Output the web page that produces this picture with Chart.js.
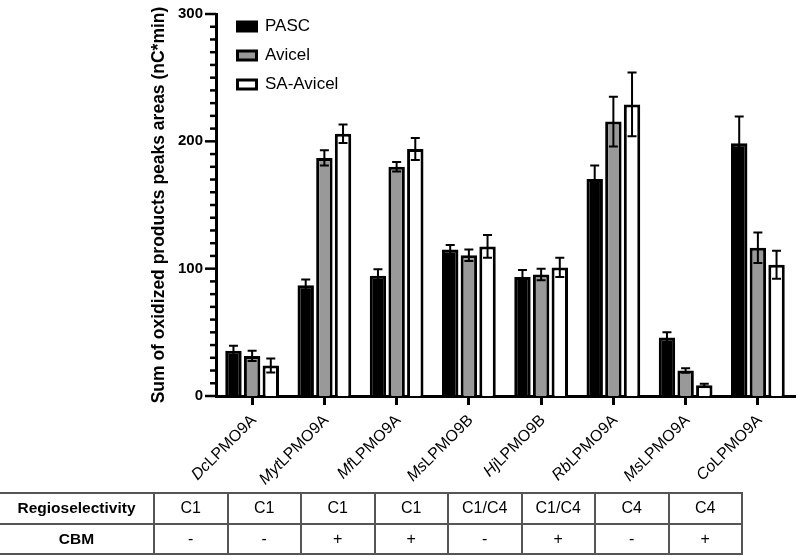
<!DOCTYPE html>
<html>
<head>
<meta charset="utf-8">
<script src="https://cdn.jsdelivr.net/npm/chart.js@4.4.1/dist/chart.umd.min.js"></script>
<style>
  html, body { margin: 0; padding: 0; background: #fff; }
  #wrap { position: relative; width: 797px; height: 556px; overflow: hidden; }
  #chart { position: absolute; left: 0; top: 0; }
  #tbl { position: absolute; left: 0; top: 492px; width: 742px; table-layout: fixed;
         border-collapse: collapse; font-family: "Liberation Sans", Arial, sans-serif; }
  #tbl td { border: 2px solid #555; padding: 0; height: 28.5px; text-align: center;
            font-size: 16px; color: #000; }
  #tbl td.h { font-weight: bold; font-size: 15.5px; border-left: none; }
</style>
</head>
<body>
<div id="wrap">
  <canvas id="chart" width="797" height="556"></canvas>
  <table id="tbl">
    <colgroup><col style="width:154px"><col span="8" style="width:73.5px"></colgroup>
    <tr id="rowRegio"><td class="h">Regioselectivity</td></tr>
    <tr id="rowCbm"><td class="h">CBM</td></tr>
  </table>
</div>
<script>
// Data
const categories = ['DcLPMO9A', 'MytLPMO9A', 'MfLPMO9A', 'MsLPMO9B', 'HjLPMO9B', 'RbLPMO9A', 'MsLPMO9A', 'CoLPMO9A'];
const italicPart = ['Dc', 'Myt', 'Mf', 'Ms', 'Hj', 'Rb', 'Ms', 'Co'];
const pasc = [35.5, 87, 94.5, 115, 93.5, 170.5, 46, 198.5];
const pascErr = [4, 4.5, 5, 3.5, 5.5, 10.5, 4, 21];
const avicel = [31.5, 187, 180, 110.5, 95.5, 215.5, 20, 116.5];
const avicelErr = [4, 6, 3.7, 4.5, 4.5, 19.5, 1.8, 12];
const saAvicel = [24, 206, 194, 117.5, 101, 229, 8.5, 103];
const saAvicelErr = [5.5, 7.3, 8.6, 9, 7.5, 25, 1.2, 11];
const yMax = 300;
const yMajorStep = 100;
const yMinorStep = 10;
const regioselectivity = ['C1', 'C1', 'C1', 'C1', 'C1/C4', 'C1/C4', 'C4', 'C4'];
const cbm = ['-', '-', '+', '+', '-', '+', '-', '+'];

const FONT = '"Liberation Sans", Arial, sans-serif';

// table under the chart
regioselectivity.forEach(t => {
    const td = document.createElement('td');
    td.textContent = t;
    document.getElementById('rowRegio').appendChild(td);
});
cbm.forEach(t => {
    const td = document.createElement('td');
    td.textContent = t;
    document.getElementById('rowCbm').appendChild(td);
});

// minor/major ticks on the y axis (GraphPad style)
const yAxisTicks = {
    id: 'yAxisTicks',
    afterDraw(chart) {
        const y = chart.scales.y;
        const ctx = chart.ctx;
        const x0 = chart.chartArea.left;
        ctx.save();
        ctx.strokeStyle = '#000';
        ctx.lineWidth = 2.5;
        for (let v = 0; v <= yMax; v += yMinorStep) {
            const py = y.getPixelForValue(v);
            const len = v % yMajorStep === 0 ? 11 : 6;
            ctx.beginPath();
            ctx.moveTo(x0 - len, py);
            ctx.lineTo(x0, py);
            ctx.stroke();
        }
        ctx.restore();
    }
};

// SD error bars
const errorBars = {
    id: 'errorBars',
    afterDatasetsDraw(chart) {
        const ctx = chart.ctx;
        const y = chart.scales.y;
        ctx.save();
        ctx.strokeStyle = '#000';
        ctx.lineWidth = 2;
        chart.data.datasets.forEach((ds, i) => {
            chart.getDatasetMeta(i).data.forEach((bar, j) => {
                const v = ds.data[j], e = ds.err[j];
                const top = y.getPixelForValue(v + e);
                const bot = y.getPixelForValue(v - e);
                ctx.beginPath();
                ctx.moveTo(bar.x, top); ctx.lineTo(bar.x, bot);
                ctx.moveTo(bar.x - 4.5, top); ctx.lineTo(bar.x + 4.5, top);
                ctx.moveTo(bar.x - 4.5, bot); ctx.lineTo(bar.x + 4.5, bot);
                ctx.stroke();
            });
        });
        ctx.restore();
    }
};

// rotated category labels with italic species prefix
const xLabels = {
    id: 'xLabels',
    afterDraw(chart) {
        const ctx = chart.ctx;
        const x = chart.scales.x;
        const baseY = chart.chartArea.bottom + 25;
        categories.forEach((c, i) => {
            const px = x.getPixelForTick(i);
            const it = italicPart[i];
            const rest = c.slice(it.length);
            ctx.save();
            ctx.translate(px + 5, baseY);
            ctx.rotate(-Math.PI / 4);
            ctx.fillStyle = '#000';
            ctx.textAlign = 'left';
            ctx.textBaseline = 'alphabetic';
            ctx.font = '16px ' + FONT;
            const w2 = ctx.measureText(rest).width;
            ctx.fillText(rest, -w2, 0);
            ctx.font = 'italic 16px ' + FONT;
            const w1 = ctx.measureText(it).width;
            ctx.fillText(it, -w2 - w1, 0);
            ctx.restore();
        });
    }
};

// put the legend in the top-left corner of the plot
const legendSpot = {
    id: 'legendSpot',
    afterLayout(chart) {
        chart.legend.left = 225.5;
        chart.legend.top = 6;
    }
};

new Chart(document.getElementById('chart'), {
    type: 'bar',
    data: {
        labels: categories,
        datasets: [
            { label: 'PASC', data: pasc, err: pascErr, backgroundColor: '#000', borderColor: '#000', borderWidth: 3 },
            { label: 'Avicel', data: avicel, err: avicelErr, backgroundColor: '#999999', borderColor: '#000', borderWidth: 3 },
            { label: 'SA-Avicel', data: saAvicel, err: saAvicelErr, backgroundColor: '#fff', borderColor: '#000', borderWidth: 3 }
        ]
    },
    options: {
        responsive: false,
        animation: false,
        devicePixelRatio: 1,
        categoryPercentage: 0.775,
        barPercentage: 0.88,
        layout: { padding: { left: 149, top: 9, right: 3, bottom: 0 } },
        plugins: {
            legend: {
                position: 'chartArea',
                align: 'start',
                labels: {
                    color: '#000',
                    font: { family: FONT, size: 17 },
                    boxWidth: 19,
                    boxHeight: 9,
                    padding: 12
                }
            },
            tooltip: { enabled: false }
        },
        scales: {
            x: {
                offset: true,
                grid: { display: true, drawOnChartArea: false, offset: false, tickLength: 9, lineWidth: 3, color: '#000' },
                border: { display: true, color: '#000', width: 3 },
                ticks: { display: false },
                afterFit: s => { s.height = 160; }
            },
            y: {
                min: 0,
                max: yMax,
                grid: { display: false },
                border: { display: true, color: '#000', width: 3 },
                ticks: {
                    stepSize: yMajorStep,
                    padding: 5,
                    color: '#000',
                    font: { family: FONT, size: 15, weight: 'bold' }
                },
                title: {
                    display: true,
                    text: 'Sum of oxidized products peaks areas (nC*min)',
                    color: '#000',
                    font: { family: FONT, size: 17.5, weight: 'bold' },
                    padding: { top: 0, bottom: 0 }
                },
                afterFit: s => { s.width = 67; }
            }
        }
    },
    plugins: [yAxisTicks, errorBars, xLabels, legendSpot]
});
</script>
</body>
</html>
